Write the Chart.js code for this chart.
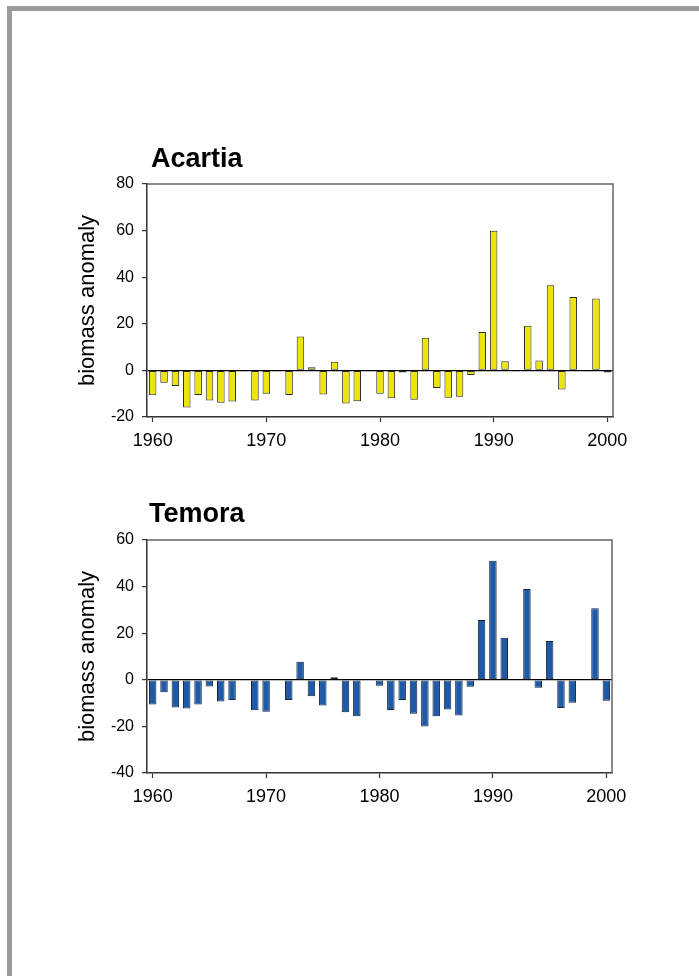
<!DOCTYPE html>
<html>
<head>
<meta charset="utf-8">
<script src="https://cdn.jsdelivr.net/npm/chart.js@4.4.1/dist/chart.umd.min.js"></script>
<style>
  html, body { margin: 0; padding: 0; background: #fff; }
  body { width: 699px; height: 976px; position: relative; overflow: hidden; }
  #sheet { position: absolute; left: 7px; top: 6px; right: 0; bottom: 0;
           border-left: 5px solid #9b9b9d; border-top: 5px solid #9b9b9d; }
  canvas { position: absolute; left: 0; }
</style>
</head>
<body>
<div id="sheet"></div>
<canvas id="acartia" width="699" height="470" style="top:0px"></canvas>
<canvas id="temora" width="699" height="340" style="top:480px"></canvas>
<script>
// Survey years (gaps are years without a value)
const years = [1960, 1961, 1962, 1963, 1964, 1965, 1966, 1967, 1968, 1969,
               1970, 1971, 1972, 1973, 1974, 1975, 1976, 1977, 1978, 1979,
               1980, 1981, 1982, 1983, 1984, 1985, 1986, 1987, 1988, 1989,
               1990, 1991, 1992, 1993, 1994, 1995, 1996, 1997, 1998, 1999, 2000];

// Biomass anomaly per year
const acartia = [-10.7, -5.3, -6.7, -15.9, -10.6, -12.9, -13.9, -13.3, null, -12.9,
                 -10.0, null, -10.6, 14.6, 1.4, -10.3, 3.7, -14.2, -13.2, null,
                 -10.0, -12.0, -0.9, -12.6, 14.0, -7.6, -11.7, -11.3, -2.0, 16.5,
                 59.9, 3.9, null, 19.2, 4.3, 36.5, -8.2, 31.5, null, 30.9, -0.9];

const temora = [-10.6, -5.3, -11.9, -12.3, -10.6, -2.9, -9.3, -8.7, null, -13.1,
                -13.7, null, -8.7, 7.7, -7.1, -11.0, 1.1, -13.9, -15.6, null,
                -2.6, -13.0, -8.7, -14.6, -20.0, -15.6, -12.7, -15.3, -3.0, 25.7,
                51.1, 18.0, null, 39.0, -3.4, 16.7, -12.1, -9.9, null, 30.7, -9.0];

// Axis ticks
const xTicks = [1960, 1970, 1980, 1990, 2000];
const acartiaYTicks = [-20, 0, 20, 40, 60, 80];
const temoraYTicks = [-40, -20, 0, 20, 40, 60];

const FONT = '"Liberation Sans", Arial, Helvetica, sans-serif';

// Panel heading plus the top/right edges of the plot frame
const panelDecor = {
  id: 'panelDecor',
  afterDraw(chart, args, opts) {
    const { ctx, chartArea: a } = chart;
    ctx.save();
    ctx.strokeStyle = '#666';
    ctx.lineWidth = 1.5;
    ctx.beginPath();
    ctx.moveTo(a.left, a.top);
    ctx.lineTo(a.right, a.top);
    ctx.lineTo(a.right, a.bottom);
    ctx.stroke();
    ctx.fillStyle = '#000';
    ctx.font = 'bold 27px ' + FONT;
    ctx.textAlign = 'left';
    ctx.textBaseline = 'alphabetic';
    ctx.fillText(opts.text, a.left + opts.dx, a.top - opts.dy);
    ctx.restore();
  }
};

function drawPanel(id, values, yTicks, fill, edge, heading, box) {
  const canvas = document.getElementById(id);
  const H = canvas.height;
  return new Chart(canvas, {
    type: 'bar',
    data: {
      datasets: [{
        data: years.map((yr, i) => ({ x: yr, y: values[i] })),
        backgroundColor: fill,
        borderColor: edge,
        borderWidth: 1,
        borderSkipped: false,
        categoryPercentage: 1,
        barPercentage: 0.66
      }]
    },
    options: {
      responsive: false,
      devicePixelRatio: 1,
      animation: false,
      events: [],
      layout: { padding: { top: box.top, right: 699 - box.right, bottom: 0, left: 0 } },
      plugins: {
        legend: { display: false },
        tooltip: { enabled: false },
        title: { display: false },
        panelDecor: heading
      },
      scales: {
        x: {
          type: 'linear',
          min: 1959.5,
          max: 2000.5,
          offset: false,
          afterBuildTicks: s => { s.ticks = xTicks.map(v => ({ value: v })); },
          afterFit: s => { s.height = H - box.bottom; },
          grid: { offset: false, drawOnChartArea: false, tickLength: 5, tickColor: '#333', tickWidth: 1.2 },
          border: { color: '#333', width: 1.5 },
          ticks: {
            color: '#000',
            padding: 8,
            maxRotation: 0,
            autoSkip: false,
            font: { family: FONT, size: 18 },
            callback: v => String(v)
          }
        },
        y: {
          min: yTicks[0],
          max: yTicks[yTicks.length - 1],
          afterBuildTicks: s => { s.ticks = yTicks.map(v => ({ value: v })); },
          afterFit: s => { s.width = box.left; },
          grid: {
            color: c => (c.tick && c.tick.value === 0) ? '#000' : 'rgba(0,0,0,0)',
            lineWidth: 1.2,
            tickLength: 5,
            tickColor: '#333',
            tickWidth: 1.2
          },
          border: { color: '#333', width: 1.5 },
          ticks: {
            color: '#000',
            padding: 8,
            font: { family: FONT, size: 16 },
            callback: v => String(v)
          },
          title: {
            display: true,
            text: 'biomass anomaly',
            color: '#000',
            font: { family: FONT, size: 22, lineHeight: 1 },
            padding: { top: 77, bottom: 0 }
          }
        }
      }
    },
    plugins: [panelDecor]
  });
}

drawPanel('acartia', acartia, acartiaYTicks, '#EDE40A', '#2b2b2b',
          { text: 'Acartia', dx: 4, dy: 17 },
          { left: 147, right: 613, top: 184, bottom: 417 });

drawPanel('temora', temora, temoraYTicks, '#1E5AA8', '#13243d',
          { text: 'Temora', dx: 2, dy: 18 },
          { left: 147, right: 612, top: 60, bottom: 293 });
</script>
</body>
</html>
